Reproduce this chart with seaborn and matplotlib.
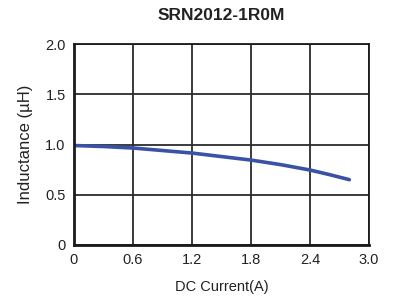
import matplotlib
matplotlib.use('Agg')
from matplotlib import pyplot as plt
import pandas as pd
import seaborn as sns

# %% Data
current = [0.0, 0.3, 0.6, 0.9, 1.2, 1.5, 1.8, 2.1, 2.4, 2.6, 2.8]
inductance = [0.99, 0.98, 0.965, 0.94, 0.915, 0.88, 0.845, 0.80, 0.746, 0.70, 0.65]
x_ticks = [0, 0.6, 1.2, 1.8, 2.4, 3.0]
x_labels = ['0', '0.6', '1.2', '1.8', '2.4', '3.0']
y_ticks = [0, 0.5, 1.0, 1.5, 2.0]
y_labels = ['0', '0.5', '1.0', '1.5', '2.0']

df = pd.DataFrame({'current': current, 'inductance': inductance})

# %% Plot
sns.set_style('white')
plt.rcParams['font.family'] = ['Liberation Sans', 'DejaVu Sans']

fig = plt.figure(figsize=(3.93, 3.0), dpi=100)
ax = fig.add_axes([74 / 393, 55 / 300, 295 / 393, 201 / 300])

sns.lineplot(data=df, x='current', y='inductance', ax=ax, color='#3a52a6',
             linewidth=2.6, solid_capstyle='round')

ax.set_xlim(0, 3.0)
ax.set_ylim(0, 2.0)
ax.set_xticks(x_ticks)
ax.set_xticklabels(x_labels)
ax.set_yticks(y_ticks)
ax.set_yticklabels(y_labels)
ax.grid(True, color='#2b2b2b', linewidth=1.3)
ax.tick_params(axis='both', length=0, labelsize=10.5, colors='#222222', pad=6)
for side, sp in ax.spines.items():
    sp.set_visible(True)
    sp.set_color('#1a1a1a')
    sp.set_linewidth(1.3)
ax.spines['left'].set_linewidth(2)
ax.spines['bottom'].set_linewidth(2)

ax.set_xlabel('DC Current(A)', fontsize=10.5, color='#222222', labelpad=9)
ax.set_ylabel('Inductance (\u00b5H)', fontsize=12, color='#222222', labelpad=9)
fig.text(221 / 393, 1 - 15 / 300, 'SRN2012-1R0M', ha='center', va='center',
         fontsize=12.5, fontweight='bold', color='#222222')

fig.savefig('out.png', dpi=100)
